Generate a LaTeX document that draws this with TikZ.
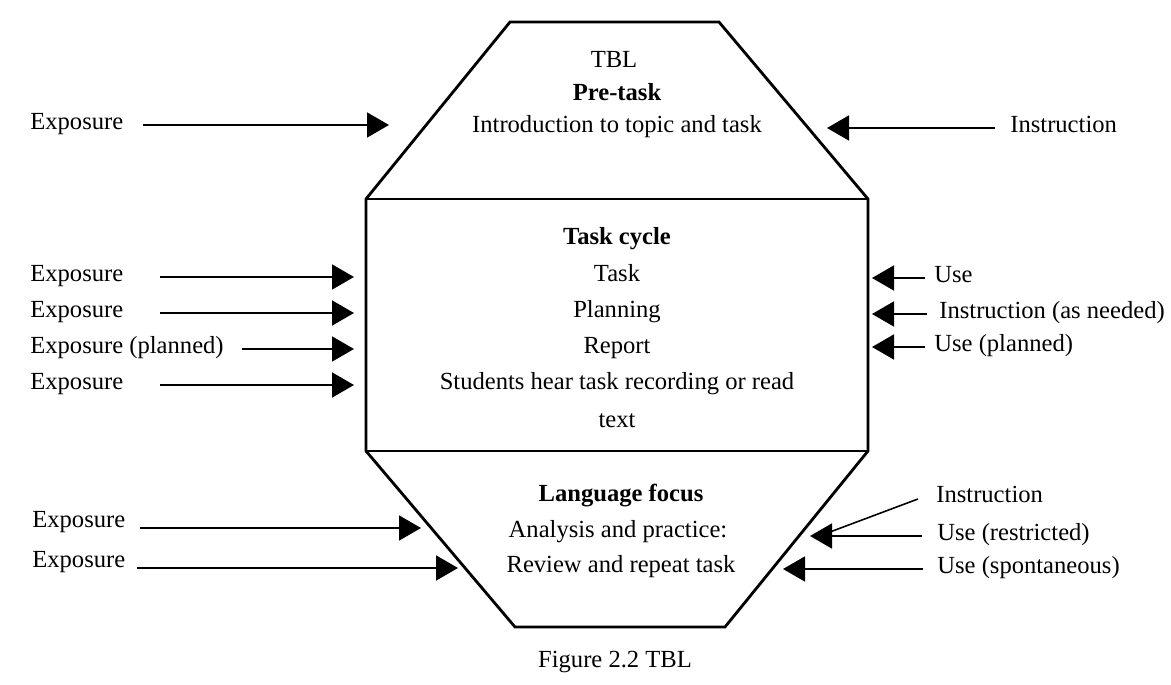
\documentclass[tikz,border=0pt]{standalone}
\usepackage{fontspec}
\setmainfont{Liberation Serif}
\usetikzlibrary{arrows.meta}
\begin{document}
\begin{tikzpicture}[x=0.02cm,y=-0.02cm,
  lbl/.style={font=\fontsize{14pt}{16pt}\selectfont, inner sep=0pt, text height=0.7em, text depth=0.2em},
  ctr/.style={lbl, anchor=center},
  lft/.style={lbl, anchor=west},
  arr/.style={line width=0.9pt, -{Triangle[length=0.44cm,width=0.5cm]}},
  plain/.style={line width=0.9pt},
  outline/.style={line width=1.6pt, line join=miter}]
\useasboundingbox (0,0) rectangle (1171,685);

% outline
\draw[outline] (510,22) -- (719,22) -- (868,199) -- (868,451) -- (725,627) -- (515,627) -- (366,451) -- (366,199) -- cycle;
\draw[outline] (366,199) -- (868,199);
\draw[outline] (366,451) -- (868,451);

% centre texts
\node[ctr] (tbl) at (614,63) {TBL};
\node[ctr] (pre) at (617,96) {\bfseries Pre-task};
\node[ctr] (intro) at (617,128) {Introduction to topic and task};
\node[ctr] (cyc) at (617,240) {\bfseries Task cycle};
\node[ctr] (task) at (617,277) {Task};
\node[ctr] (plan) at (617,313) {Planning};
\node[ctr] (rep) at (617,349) {Report};
\node[ctr] (stud) at (617,385) {Students hear task recording or read};
\node[ctr] (txt) at (617,423) {text};
\node[ctr] (lang) at (621,497) {\bfseries Language focus};
\node[ctr] (ana) at (618,533) {Analysis and practice:};
\node[ctr] (rev) at (621,568) {Review and repeat task};
\node[ctr] (fig) at (615,663) {Figure 2.2 TBL};

% left labels
\node[lft] (l1) at (30,125) {Exposure};
\node[lft] (l2) at (30,277) {Exposure};
\node[lft] (l3) at (30,313) {Exposure};
\node[lft] (l4) at (30,349) {Exposure (planned)};
\node[lft] (l5) at (30,385) {Exposure};
\node[lft] (l6) at (32,523) {Exposure};
\node[lft] (l7) at (32,563) {Exposure};

% right labels
\node[lft] (r1) at (1010,128) {Instruction};
\node[lft] (r2) at (934,278) {Use};
\node[lft] (r3) at (939,314) {Instruction (as needed)};
\node[lft] (r4) at (934,347) {Use (planned)};
\node[lft] (r5) at (936,498) {Instruction};
\node[lft] (r6) at (937,536) {Use (restricted)};
\node[lft] (r7) at (937,569) {Use (spontaneous)};

% arrow end points
\coordinate (s1) at (143,125); \coordinate (t1) at (389,125);
\coordinate (s2) at (160,277); \coordinate (t2) at (354,277);
\coordinate (s3) at (160,313); \coordinate (t3) at (354,313);
\coordinate (s4) at (242,349); \coordinate (t4) at (354,349);
\coordinate (s5) at (160,385); \coordinate (t5) at (354,385);
\coordinate (s6) at (140,528); \coordinate (t6) at (421,528);
\coordinate (s7) at (137,568); \coordinate (t7) at (458,568);

\coordinate (u1) at (995,128); \coordinate (v1) at (827,128);
\coordinate (u2) at (925,278); \coordinate (v2) at (872,278);
\coordinate (u3) at (927,314); \coordinate (v3) at (872,314);
\coordinate (u4) at (925,347); \coordinate (v4) at (872,347);
\coordinate (u5) at (918,499); \coordinate (v5) at (822,535);
\coordinate (u6) at (922,536); \coordinate (v6) at (810,536);
\coordinate (u7) at (923,569); \coordinate (v7) at (783,569);

\foreach \i in {1,...,7} {\draw[arr] (s\i) -- (t\i);}
\foreach \i in {1,2,3,4,6,7} {\draw[arr] (u\i) -- (v\i);}
\draw[plain] (u5) -- (v5);
\end{tikzpicture}
\end{document}
